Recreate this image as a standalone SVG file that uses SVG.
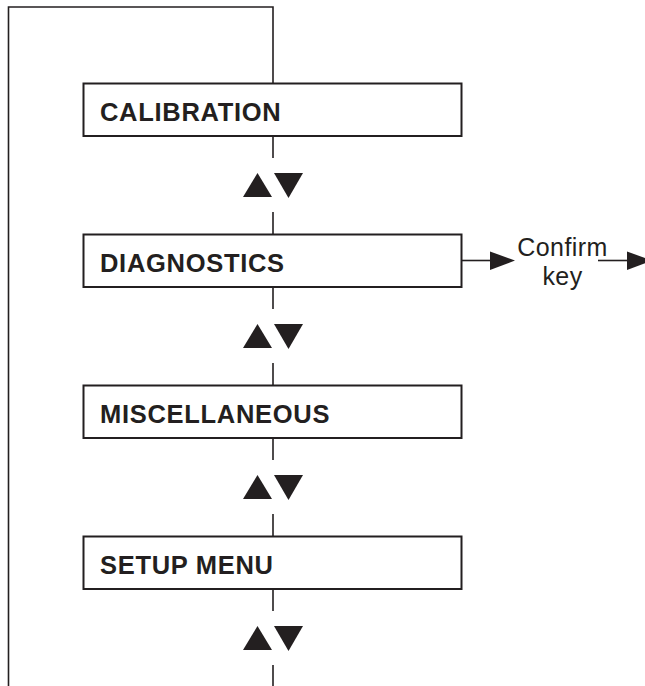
<svg xmlns="http://www.w3.org/2000/svg" width="645" height="686" viewBox="0 0 645 686">
<defs>
<style>
.box{fill:#fff;stroke:#231f20;stroke-width:2}
.ln{fill:none;stroke:#231f20;stroke-width:1.6}
.lbl{font-family:"Liberation Sans",Arial,sans-serif;font-weight:bold;font-size:25.5px;letter-spacing:0.7px;fill:#231f20}
.txt{font-family:"Liberation Sans",Arial,sans-serif;font-size:25px;letter-spacing:0.4px;fill:#231f20}
.tri{fill:#231f20}
</style>
<g id="updown">
<polygon class="tri" points="243,12 257.5,-12 272,12"/>
<polygon class="tri" points="274,-12 303,-12 288.5,13"/>
</g>
</defs>
<rect width="645" height="686" fill="#fff"/>
<g id="connectors">
<polyline class="ln" points="273,83 273,7 8.5,7 8.5,686"/>
<line class="ln" x1="273" y1="136" x2="273" y2="158"/>
<line class="ln" x1="273" y1="212" x2="273" y2="234"/>
<line class="ln" x1="273" y1="287" x2="273" y2="309"/>
<line class="ln" x1="273" y1="363" x2="273" y2="385"/>
<line class="ln" x1="273" y1="438" x2="273" y2="460"/>
<line class="ln" x1="273" y1="514" x2="273" y2="536"/>
<line class="ln" x1="273" y1="589" x2="273" y2="611"/>
<line class="ln" x1="273" y1="665" x2="273" y2="686"/>
<use href="#updown" y="185"/>
<use href="#updown" y="336"/>
<use href="#updown" y="487"/>
<use href="#updown" y="638"/>
<line class="ln" x1="462" y1="260.5" x2="492" y2="260.5"/>
<polygon class="tri" points="490,251.5 515,260.5 490,270"/>
<line class="ln" x1="598" y1="260.5" x2="629" y2="260.5"/>
<polygon class="tri" points="627,251.5 652,260.5 627,270"/>
</g>
<g id="calibration">
<rect class="box" x="83.5" y="83.5" width="378" height="52.5"/>
<text class="lbl" x="100" y="121">CALIBRATION</text>
</g>
<g id="diagnostics">
<rect class="box" x="83.5" y="234.5" width="378" height="52.5"/>
<text class="lbl" x="100" y="272">DIAGNOSTICS</text>
</g>
<g id="miscellaneous">
<rect class="box" x="83.5" y="385.5" width="378" height="52.5"/>
<text class="lbl" x="100" y="423">MISCELLANEOUS</text>
</g>
<g id="setup">
<rect class="box" x="83.5" y="536.5" width="378" height="52.5"/>
<text class="lbl" x="100" y="574">SETUP MENU</text>
</g>
<g id="confirm">
<text class="txt" x="562.5" y="256" text-anchor="middle">Confirm</text>
<text class="txt" x="562.5" y="285" text-anchor="middle">key</text>
</g>
</svg>
